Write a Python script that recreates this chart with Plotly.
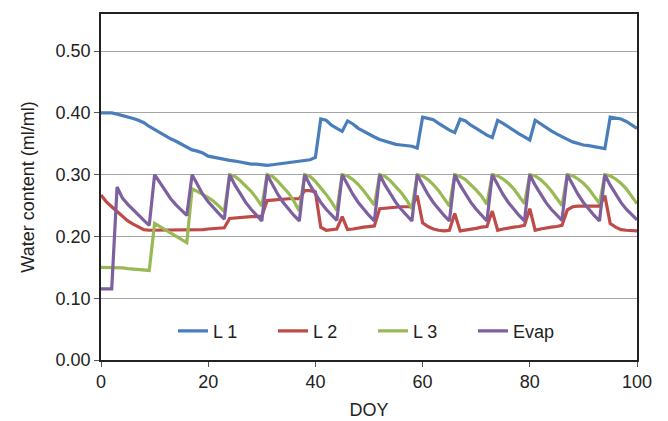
import plotly.graph_objects as go

doy = list(range(0, 101))

l1 = [0.400, 0.400, 0.400, 0.398, 0.396, 0.394, 0.391, 0.388, 0.384, 0.378,
      0.373, 0.368, 0.362, 0.358, 0.354, 0.349, 0.344, 0.340, 0.338, 0.335,
      0.330, 0.328, 0.326, 0.325, 0.323, 0.322, 0.320, 0.318, 0.317, 0.317,
      0.316, 0.315, 0.316, 0.317, 0.318, 0.320, 0.321, 0.322, 0.323, 0.324,
      0.328, 0.390, 0.388, 0.380, 0.375, 0.370, 0.387, 0.382, 0.375, 0.370,
      0.366, 0.361, 0.357, 0.354, 0.351, 0.349, 0.348, 0.347, 0.346, 0.343,
      0.393, 0.391, 0.389, 0.383, 0.377, 0.372, 0.368, 0.390, 0.387, 0.380,
      0.375, 0.369, 0.364, 0.360, 0.388, 0.383, 0.377, 0.371, 0.366, 0.361,
      0.356, 0.388, 0.382, 0.376, 0.371, 0.366, 0.361, 0.357, 0.353, 0.350,
      0.348, 0.347, 0.345, 0.344, 0.342, 0.393, 0.392, 0.390, 0.386, 0.381,
      0.375]

l2 = [0.267, 0.256, 0.248, 0.240, 0.232, 0.225, 0.220, 0.215, 0.211, 0.210,
      0.210, 0.210, 0.210, 0.210, 0.210, 0.210, 0.210, 0.210, 0.210, 0.211,
      0.212, 0.213, 0.213, 0.214, 0.229, 0.230, 0.231, 0.231, 0.232, 0.232,
      0.233, 0.258, 0.259, 0.260, 0.260, 0.261, 0.261, 0.261, 0.274, 0.274,
      0.272, 0.215, 0.210, 0.211, 0.212, 0.232, 0.211, 0.212, 0.214, 0.215,
      0.216, 0.217, 0.245, 0.246, 0.247, 0.248, 0.248, 0.248, 0.248, 0.266,
      0.222, 0.216, 0.212, 0.210, 0.209, 0.210, 0.237, 0.209, 0.210, 0.211,
      0.213, 0.215, 0.216, 0.241, 0.210, 0.212, 0.214, 0.215, 0.216, 0.218,
      0.245, 0.210, 0.212, 0.214, 0.215, 0.216, 0.218, 0.243, 0.248, 0.249,
      0.249, 0.249, 0.249, 0.249, 0.266, 0.221, 0.215, 0.211, 0.210, 0.209,
      0.209]

l3 = [0.150, 0.150, 0.150, 0.149, 0.149, 0.148, 0.147, 0.146, 0.146, 0.145,
      0.221, 0.216, 0.211, 0.206, 0.201, 0.196, 0.190, 0.277, 0.273, 0.268,
      0.263, 0.257, 0.249, 0.240, 0.300, 0.297, 0.290, 0.282, 0.273, 0.262,
      0.249, 0.300, 0.297, 0.289, 0.280, 0.270, 0.257, 0.241, 0.300, 0.297,
      0.289, 0.279, 0.268, 0.256, 0.242, 0.300, 0.298, 0.292, 0.284, 0.274,
      0.263, 0.251, 0.300, 0.297, 0.290, 0.281, 0.271, 0.259, 0.245, 0.300,
      0.298, 0.292, 0.284, 0.274, 0.262, 0.249, 0.300, 0.297, 0.292, 0.284,
      0.275, 0.265, 0.252, 0.300, 0.298, 0.293, 0.286, 0.277, 0.266, 0.253,
      0.300, 0.298, 0.292, 0.284, 0.274, 0.263, 0.250, 0.300, 0.298, 0.293,
      0.286, 0.277, 0.266, 0.253, 0.300, 0.298, 0.293, 0.286, 0.277, 0.266,
      0.253]

evap = [0.115, 0.115, 0.115, 0.280, 0.262, 0.252, 0.243, 0.235, 0.226, 0.218,
        0.300, 0.287, 0.273, 0.261, 0.251, 0.242, 0.234, 0.300, 0.283, 0.268,
        0.256, 0.246, 0.237, 0.228, 0.300, 0.283, 0.268, 0.255, 0.244, 0.234,
        0.225, 0.300, 0.283, 0.268, 0.255, 0.244, 0.234, 0.225, 0.300, 0.283,
        0.268, 0.255, 0.244, 0.235, 0.226, 0.300, 0.283, 0.268, 0.255, 0.244,
        0.234, 0.225, 0.300, 0.283, 0.268, 0.255, 0.244, 0.234, 0.225, 0.300,
        0.283, 0.268, 0.255, 0.244, 0.234, 0.225, 0.300, 0.283, 0.268, 0.255,
        0.244, 0.234, 0.225, 0.300, 0.283, 0.268, 0.255, 0.244, 0.234, 0.225,
        0.300, 0.283, 0.268, 0.255, 0.244, 0.235, 0.226, 0.300, 0.283, 0.268,
        0.255, 0.244, 0.234, 0.225, 0.300, 0.283, 0.268, 0.255, 0.244, 0.235,
        0.227]

series = [("L 1", l1, "#4A7EBB"), ("L 2", l2, "#BE4B48"),
          ("L 3", l3, "#98B954"), ("Evap", evap, "#7D60A0")]

y_ticks = [0.0, 0.1, 0.2, 0.3, 0.4, 0.5]
x_ticks = [0, 20, 40, 60, 80, 100]

fig = go.Figure()
for name, vals, col in series:
    fig.add_trace(go.Scatter(x=doy, y=vals, mode="lines", name=name,
                             line=dict(color=col, width=3.2)))

font_family = "Liberation Sans, Arial, sans-serif"
fs = 18
fig.update_layout(
    width=660, height=413,
    margin=dict(l=93, r=31, t=4, b=60),
    paper_bgcolor="white", plot_bgcolor="white",
    font=dict(family=font_family, size=fs, color="#222222"),
    showlegend=True,
    legend=dict(orientation="h", x=(173 - 101) / 536, xanchor="left",
                y=(361 - 332) / 349, yanchor="middle",
                entrywidth=55, entrywidthmode="pixels", itemwidth=30,
                font=dict(size=fs, color="#222222"), bgcolor="rgba(0,0,0,0)",
                traceorder="normal"),
    xaxis=dict(range=[0, 100], tickvals=x_ticks, ticks="outside", ticklen=5,
               tickcolor="#555555", showgrid=False, zeroline=False,
               showline=True, linecolor="#222222", linewidth=1.5, mirror=True,
               title=dict(text="DOY", standoff=12, font=dict(size=fs)),
               tickfont=dict(size=fs)),
    yaxis=dict(range=[0, 0.56], tickvals=y_ticks, tickformat=".2f",
               ticks="outside", ticklen=5, tickcolor="#555555",
               showgrid=True, gridcolor="#A6A6A6", gridwidth=1.2, zeroline=False,
               showline=True, linecolor="#222222", linewidth=1.5, mirror=True,
               title=dict(text="Water content (ml/ml)", standoff=16, font=dict(size=fs)),
               tickfont=dict(size=fs)),
)

fig.write_html("out.html")
